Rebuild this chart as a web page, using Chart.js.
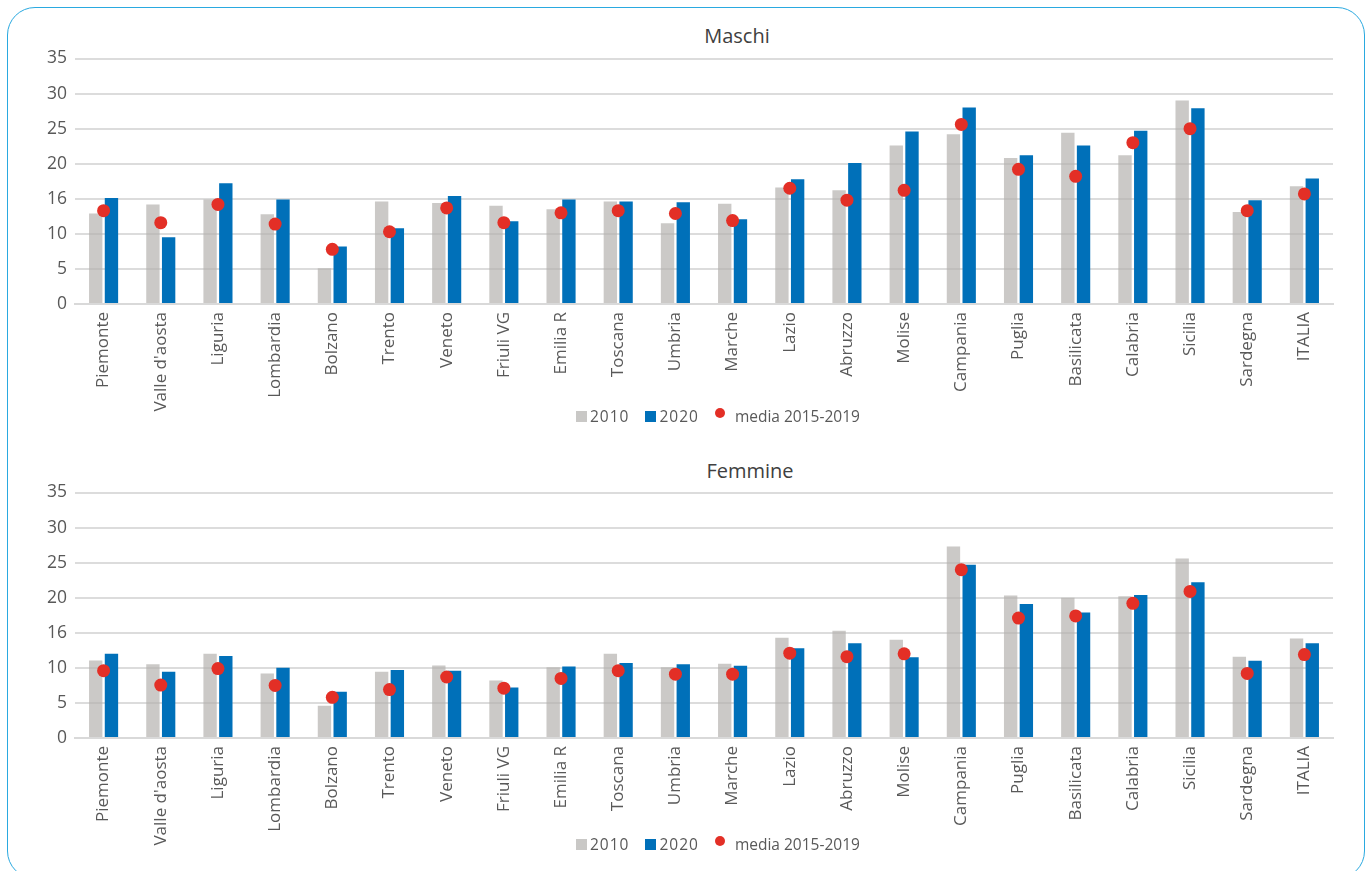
<!DOCTYPE html>
<html>
<head>
<meta charset="utf-8">
<script src="https://cdn.jsdelivr.net/npm/chart.js@4.4.1/dist/chart.umd.min.js"></script>
<style>
  body { margin: 0; background: #fff; overflow: hidden; font-family: "Open Sans", sans-serif; }
  #frame { position: absolute; left: 7px; top: 7px; width: 1356px; height: 870px; border: 1.5px solid #2aa9e0; border-radius: 28px; }
  .ttl { position: absolute; width: 400px; text-align: center; font-size: 20px; color: #404040; }
  .box { position: absolute; left: 20px; width: 1330px; }
  .leg { position: absolute; left: 576px; display: flex; align-items: center; font-size: 15.5px; color: #595959; white-space: nowrap; }
  .leg .sq { width: 11px; height: 11px; display: inline-block; margin-right: 3px; }
  .leg .dt { width: 10px; height: 10px; border-radius: 50%; display: inline-block; margin-right: 10px; position: relative; top: -3px; }
  .leg .it { margin-right: 16px; display: flex; align-items: center; }
  .leg .yr { letter-spacing: 1px; }
</style>
</head>
<body>
<div id="frame"></div>
<div class="ttl" style="left:537px; top:22px;">Maschi</div>
<div class="box" style="top:40px; height:379px;"><canvas id="maschi"></canvas></div>
<div class="leg" id="leg1" style="top:405px;"></div>
<div class="ttl" style="left:550px; top:457px;">Femmine</div>
<div class="box" style="top:474px; height:379px;"><canvas id="femmine"></canvas></div>
<div class="leg" id="leg2" style="top:833px;"></div>
<script>
// regions
const regioni = ["Piemonte", "Valle d'aosta", "Liguria", "Lombardia", "Bolzano", "Trento", "Veneto", "Friuli VG", "Emilia R", "Toscana", "Umbria", "Marche", "Lazio", "Abruzzo", "Molise", "Campania", "Puglia", "Basilicata", "Calabria", "Sicilia", "Sardegna", "ITALIA"];

// tick labels as printed (the 15 line is labelled "16" in the original)
const yTicks = [0, 5, 10, 15, 20, 25, 30, 35];
const yTickLabels = ["0", "5", "10", "16", "20", "25", "30", "35"];

// Maschi
const maschi2010 = [12.9, 14.2, 14.9, 12.8, 5.1, 14.6, 14.4, 14.0, 13.5, 14.6, 11.5, 14.3, 16.6, 16.2, 22.6, 24.2, 20.8, 24.4, 21.2, 29.0, 13.1, 16.8];
const maschi2020 = [15.1, 9.5, 17.2, 14.9, 8.2, 10.8, 15.4, 11.8, 14.9, 14.6, 14.5, 12.1, 17.8, 20.1, 24.6, 28.0, 21.2, 22.6, 24.7, 27.9, 14.8, 17.9];
const maschiMedia = [13.3, 11.6, 14.2, 11.4, 7.8, 10.3, 13.7, 11.6, 13.0, 13.3, 12.9, 11.9, 16.5, 14.8, 16.2, 25.6, 19.2, 18.2, 23.0, 25.0, 13.3, 15.7];

// Femmine
const femmine2010 = [11.05, 10.5, 12.0, 9.2, 4.6, 9.45, 10.35, 8.2, 10.1, 12.0, 10.1, 10.6, 14.3, 15.3, 14.0, 27.3, 20.3, 20.0, 20.2, 25.6, 11.6, 14.2];
const femmine2020 = [12.0, 9.45, 11.7, 10.0, 6.6, 9.7, 9.6, 7.2, 10.2, 10.7, 10.5, 10.3, 12.8, 13.5, 11.5, 24.7, 19.1, 17.9, 20.4, 22.2, 11.0, 13.5];
const femmineMedia = [9.6, 7.55, 9.9, 7.5, 5.8, 6.9, 8.7, 7.1, 8.5, 9.6, 9.1, 9.1, 12.1, 11.6, 12.0, 24.0, 17.1, 17.4, 19.2, 20.9, 9.2, 11.9];

const GREY = 'rgba(178, 176, 173, 0.68)';
const GREY_SOLID = '#c9c8c6';
const BLUE = '#0070b9';
const RED = '#e32f26';
const TXT = '#595959';

function makeChart(id, d2010, d2020, media) {
  return new Chart(document.getElementById(id), {
    type: 'bar',
    data: {
      labels: regioni,
      datasets: [
        { label: '2010', data: d2010, backgroundColor: GREY, order: 1,
          categoryPercentage: 0.55, barPercentage: 0.85 },
        { label: '2020', data: d2020, backgroundColor: BLUE, order: 1,
          categoryPercentage: 0.55, barPercentage: 0.85 },
        { type: 'line', label: 'media 2015-2019', data: media, showLine: false, order: 0,
          pointRadius: 6.5, pointHoverRadius: 6.5, pointBackgroundColor: RED, pointBorderWidth: 0,
          backgroundColor: RED, borderColor: RED }
      ]
    },
    options: {
      responsive: true,
      maintainAspectRatio: false,
      animation: false,
      layout: { padding: { top: 10, right: 17, left: 0, bottom: 0 } },
      plugins: {
        tooltip: { enabled: false },
        legend: { display: false }
      },
      scales: {
        x: {
          grid: { display: false, drawTicks: false },
          border: { color: '#d9d9d9', width: 2 },
          ticks: { color: TXT, font: { family: 'Open Sans', size: 17 }, minRotation: 90, maxRotation: 90, padding: 8, autoSkip: false },
          afterFit: (s) => { s.height = 115; }
        },
        y: {
          min: 0, max: 35,
          afterBuildTicks: (s) => { s.ticks = yTicks.map(v => ({ value: v })); },
          grid: { color: '#dcdcdc', lineWidth: 2, drawTicks: false },
          border: { display: false },
          ticks: {
            color: TXT, font: { family: 'Open Sans', size: 17.5 }, padding: 8,
            callback: (v) => yTickLabels[yTicks.indexOf(v)]
          },
          afterFit: (s) => { s.width = 55; }
        }
      }
    }
  });
}

// legend built from the chart's datasets
function makeLegend(chart, el) {
  chart.data.datasets.forEach((ds, i) => {
    const it = document.createElement('span');
    it.className = 'it';
    const mark = document.createElement('span');
    mark.className = ds.type === 'line' ? 'dt' : 'sq';
    mark.style.background = i === 0 ? GREY_SOLID : ds.backgroundColor;
    it.appendChild(mark);
    const txt = document.createElement('span');
    if (ds.type !== 'line') txt.className = 'yr';
    txt.textContent = ds.label;
    it.appendChild(txt);
    el.appendChild(it);
  });
}

const c1 = makeChart('maschi', maschi2010, maschi2020, maschiMedia);
const c2 = makeChart('femmine', femmine2010, femmine2020, femmineMedia);
makeLegend(c1, document.getElementById('leg1'));
makeLegend(c2, document.getElementById('leg2'));
</script>
</body>
</html>
